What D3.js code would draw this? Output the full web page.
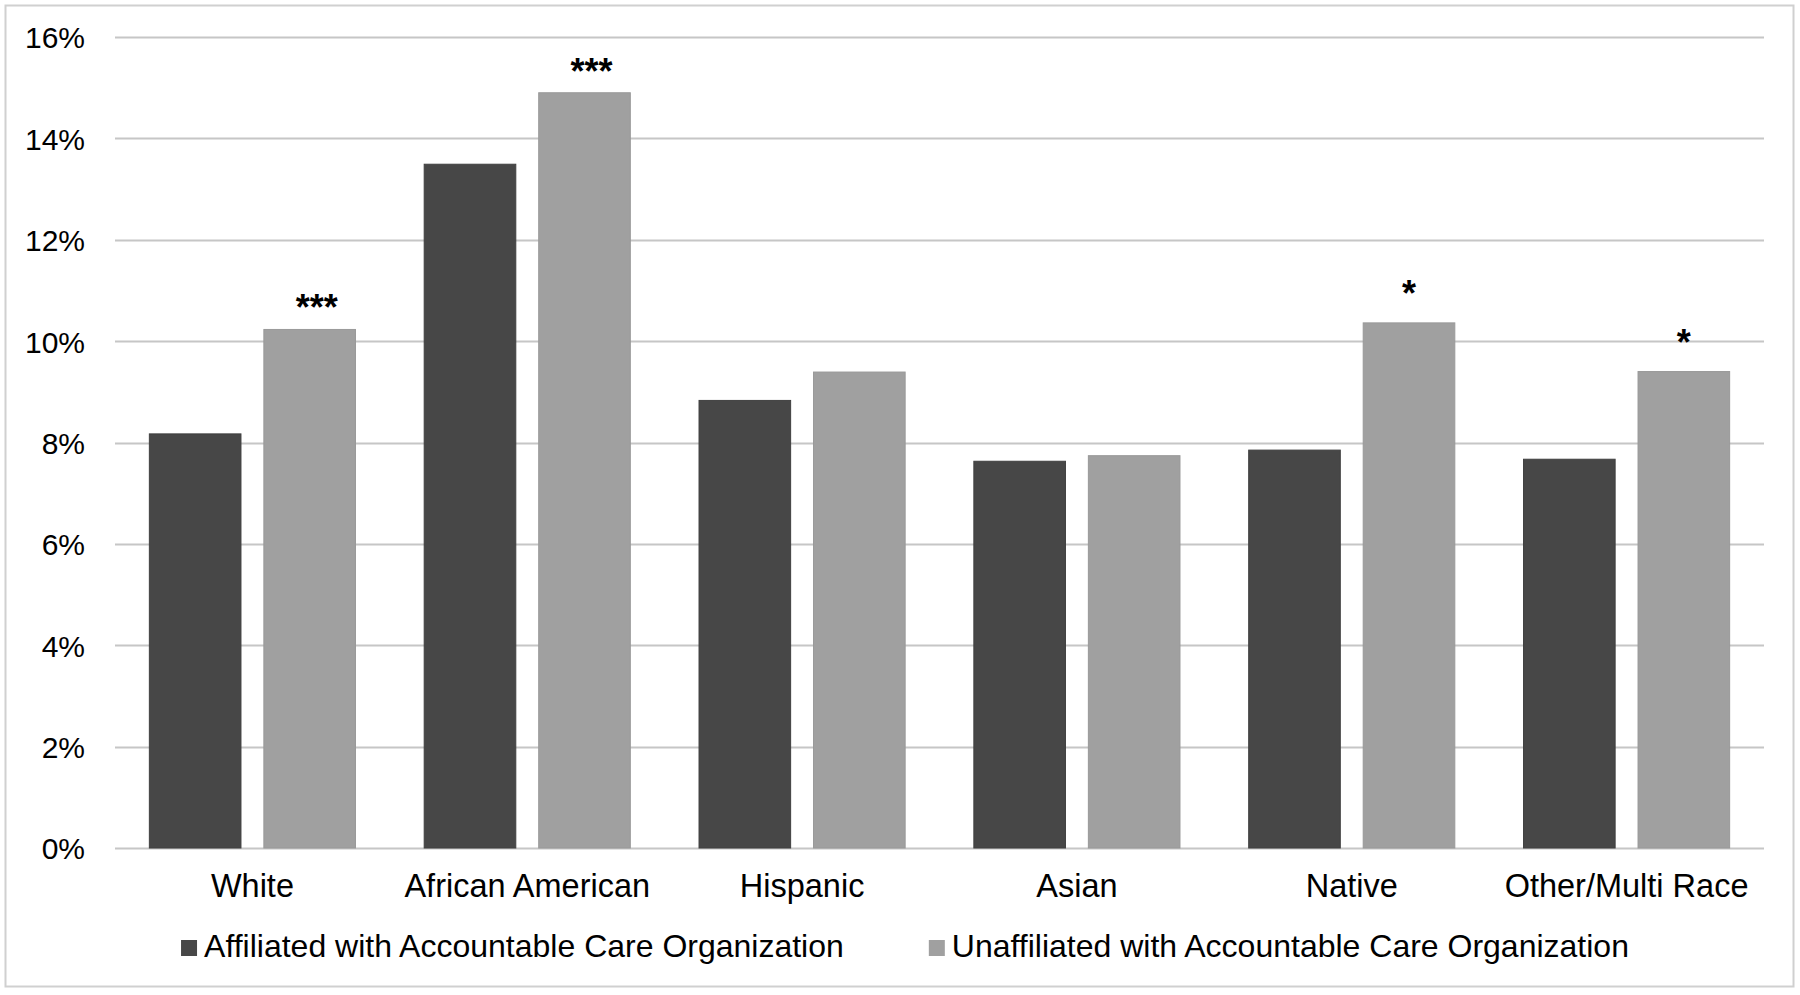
<!DOCTYPE html>
<html>
<head>
<meta charset="utf-8">
<script src="https://cdn.jsdelivr.net/npm/d3@7/dist/d3.min.js"></script>
<style>
  html, body { margin: 0; padding: 0; background: #fff; }
  svg { display: block; }
  text { font-family: "Liberation Sans", Arial, sans-serif; fill: #000; }
</style>
</head>
<body>
<svg id="chart" width="1800" height="995"></svg>
<script>
const categories = ["White", "African American", "Hispanic", "Asian", "Native", "Other/Multi Race"];
const seriesNames = ["Affiliated with Accountable Care Organization", "Unaffiliated with Accountable Care Organization"];
const affiliated = [8.17, 13.49, 8.83, 7.63, 7.85, 7.67];
const unaffiliated = [10.23, 14.90, 9.39, 7.74, 10.36, 9.40];
const significance = ["***", "***", "", "", "*", "*"];
const yTicks = [0, 2, 4, 6, 8, 10, 12, 14, 16];
const colors = ["#474747", "#a0a0a0"];

const svg = d3.select("#chart");

// outer border
svg.append("rect").attr("x", 5.5).attr("y", 5.5).attr("width", 1788).attr("height", 981)
  .attr("fill", "#fff").attr("stroke", "#d0d0d0").attr("stroke-width", 2);

const plot = { left: 115, right: 1764, top: 37, bottom: 848 };

const x0 = d3.scaleBand().domain(categories).range([plot.left, plot.right]).paddingInner(0).paddingOuter(0);
const x1 = d3.scaleBand().domain([0, 1]).range([0, x0.bandwidth()]).paddingInner(0.2).paddingOuter(0.3);
const y = d3.scaleLinear().domain([0, 16]).range([plot.bottom, plot.top]);

// gridlines
svg.append("g").selectAll("line").data(yTicks).join("line")
  .attr("x1", plot.left).attr("x2", plot.right)
  .attr("y1", d => Math.round(y(d)) + 0.5).attr("y2", d => Math.round(y(d)) + 0.5)
  .attr("stroke", "#c6c6c6").attr("stroke-width", 2);

// y tick labels
svg.append("g").selectAll("text").data(yTicks).join("text")
  .attr("x", 85).attr("y", d => y(d)).attr("dy", "0.38em")
  .attr("text-anchor", "end").attr("font-size", 30)
  .text(d => d + "%");

// bars
const rows = categories.map((c, i) => ({ cat: c, vals: [affiliated[i], unaffiliated[i]], sig: significance[i] }));
const g = svg.append("g").selectAll("g").data(rows).join("g")
  .attr("transform", d => `translate(${x0(d.cat)},0)`);
g.selectAll("rect").data(d => d.vals.map((v, k) => ({ v, k }))).join("rect")
  .attr("x", d => x1(d.k)).attr("width", x1.bandwidth())
  .attr("y", d => y(d.v)).attr("height", d => y(0) - y(d.v))
  .attr("fill", d => colors[d.k])
  .attr("stroke", d => d.k === 0 ? "#404040" : "#999999").attr("stroke-width", 1);

// significance labels
g.append("text")
  .attr("x", d => x1(1) + x1.bandwidth() / 2 + (d.sig.length === 3 ? 7 : 0))
  .attr("y", d => y(d.vals[1]) - (d.sig.length === 1 ? 17 : 9))
  .attr("text-anchor", "middle").attr("font-size", 36).attr("font-weight", "bold")
  .attr("fill", "#1a1a1a")
  .text(d => d.sig);

// category labels
svg.append("g").selectAll("text").data(categories).join("text")
  .attr("x", d => x0(d) + x0.bandwidth() / 2).attr("y", 897)
  .attr("text-anchor", "middle").attr("font-size", 32.5)
  .text(d => d);

// legend
const leg = svg.append("g");
const items = leg.selectAll("g").data(seriesNames).join("g");
items.append("rect").attr("width", 16).attr("height", 16).attr("y", 940)
  .attr("fill", (d, i) => colors[i]);
items.append("text").attr("x", 23).attr("y", 957).attr("font-size", 32).text(d => d);
let widths = [];
items.each(function () { widths.push(this.getBBox().width); });
const gap = 85;
const total = d3.sum(widths) + gap * (widths.length - 1);
let cx = 905 - total / 2;
items.attr("transform", (d, i) => {
  const t = `translate(${cx},0)`;
  cx += widths[i] + gap;
  return t;
});
</script>
</body>
</html>
